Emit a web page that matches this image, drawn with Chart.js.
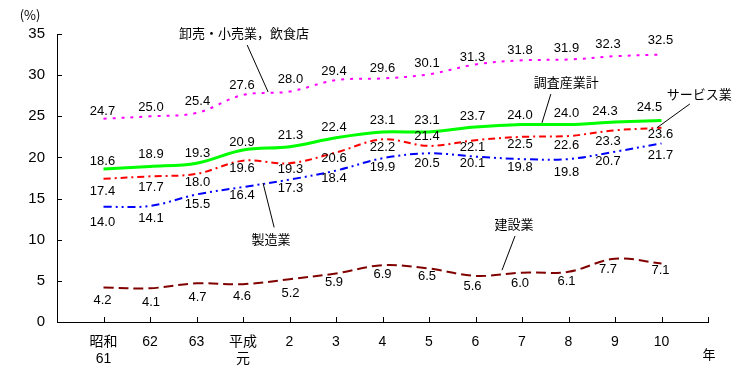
<!DOCTYPE html>
<html>
<head>
<meta charset="utf-8">
<script src="https://cdn.jsdelivr.net/npm/chart.js@4/dist/chart.umd.min.js"></script>
<style>
  html, body { margin: 0; padding: 0; background: #fff; }
  #wrap { width: 742px; height: 376px; position: relative; }
</style>
</head>
<body>
<div id="wrap"><canvas id="c" width="742" height="376"></canvas></div>
<script>
// ---- data ----
const years = ['昭和61', '62', '63', '平成元', '2', '3', '4', '5', '6', '7', '8', '9', '10'];
const tickLabels = [['昭和', '61'], '62', '63', ['平成', '元'], '2', '3', '4', '5', '6', '7', '8', '9', '10'];
const yTicks = [0, 5, 10, 15, 20, 25, 30, 35];
const wholesaleRetail = [24.7, 25.0, 25.4, 27.6, 28.0, 29.4, 29.6, 30.1, 31.3, 31.8, 31.9, 32.3, 32.5];
const allIndustries   = [18.6, 18.9, 19.3, 20.9, 21.3, 22.4, 23.1, 23.1, 23.7, 24.0, 24.0, 24.3, 24.5];
const services        = [17.4, 17.7, 18.0, 19.6, 19.3, 20.6, 22.2, 21.4, 22.1, 22.5, 22.6, 23.3, 23.6];
const manufacturing   = [14.0, 14.1, 15.5, 16.4, 17.3, 18.4, 19.9, 20.5, 20.1, 19.8, 19.8, 20.7, 21.7];
const construction    = [4.2, 4.1, 4.7, 4.6, 5.2, 5.9, 6.9, 6.5, 5.6, 6.0, 6.1, 7.7, 7.1];

// ---- label placement (pixels relative to each point) ----
const sharedDx = [-1, 1, 1, -1, 1, -2, 0, -2, -3, -2, -2, -7, -1];
const labelDy = {
  wholesale:     [-7, -9, -12, -9, -12, -9, -10, -11, -7, -10, -11, -12, -14],
  all:           [-8, -12, -10, -8, -11, -10, -11, -11, -11, -9, -11, -11, -13],
  services:      [13, 11, 9, 8, 6, 6, 8, -9, 7, 8, 9, 11, 7],
  manufacturing: [16, 12, 10, 8, 9, 8, 9, 10, 7, 8, 13, 10, 12],
  construction:  [13, 14, 14, 12, 14, 9, 9, 8, 11, 11, 10, 11, 7]
};
const extraDx = { all: {11: -3, 12: -11} };

// annotations in data units
const annotations = [
  { text: '卸売・小売業，飲食店', x: 4.02, y: 35.1, line: [4.09, 33.66, 4.54, 27.95] },
  { text: '調査産業計', x: 10.95, y: 29.2, line: [10.62, 27.7, 10.43, 24.2] },
  { text: 'サービス業', x: 13.81, y: 27.7, line: [13.61, 26.5, 12.90, 23.6] },
  { text: '製造業', x: 4.60, y: 10.1, line: [4.43, 16.9, 4.67, 11.5] },
  { text: '建設業', x: 9.83, y: 11.9, line: [9.85, 10.45, 9.57, 6.3] },
  { text: '(%)', x: -0.58, y: 37.3 },
  { text: '年', x: 14.02, y: -3.9 }
];

const toXY = arr => arr.map((v, i) => ({ x: i + 1, y: v }));

const NUM_FONT = '13px "Liberation Sans", "Noto Sans CJK JP", sans-serif';
const JP_FONT = '13px "Noto Sans CJK JP", "Liberation Sans", sans-serif';

const overlay = {
  id: 'overlay',
  afterDraw(chart) {
    const ctx = chart.ctx;
    const xs = chart.scales.x, ys = chart.scales.y;
    const ca = chart.chartArea;
    ctx.save();
    // tick marks (inward)
    ctx.strokeStyle = '#000';
    ctx.lineWidth = 1;
    ctx.beginPath();
    for (let v = 1; v <= 14; v++) {
      const px = Math.round(xs.getPixelForValue(v)) + 0.5;
      ctx.moveTo(px, ca.bottom);
      ctx.lineTo(px, ca.bottom - 5);
    }
    yTicks.forEach(v => {
      const py = Math.round(ys.getPixelForValue(v)) + 0.5;
      ctx.moveTo(ca.left, py);
      ctx.lineTo(ca.left + 5, py);
    });
    ctx.stroke();

    // value labels
    ctx.fillStyle = '#000';
    ctx.font = NUM_FONT;
    ctx.textAlign = 'center';
    ctx.textBaseline = 'middle';
    chart.data.datasets.forEach((ds, di) => {
      const meta = chart.getDatasetMeta(di);
      const dys = labelDy[ds.key];
      const ex = extraDx[ds.key] || {};
      meta.data.forEach((el, i) => {
        const dx = sharedDx[i] + (ex[i] || 0);
        ctx.fillText(ds.data[i].y.toFixed(1), el.x + dx, el.y + dys[i]);
      });
    });

    // annotations
    ctx.font = JP_FONT;
    annotations.forEach(a => {
      ctx.fillText(a.text, xs.getPixelForValue(a.x), ys.getPixelForValue(a.y));
      if (a.line) {
        ctx.beginPath();
        ctx.moveTo(xs.getPixelForValue(a.line[0]), ys.getPixelForValue(a.line[1]));
        ctx.lineTo(xs.getPixelForValue(a.line[2]), ys.getPixelForValue(a.line[3]));
        ctx.stroke();
      }
    });
    ctx.restore();
  }
};

const common = { pointRadius: 0, fill: false, tension: 0.35, borderCapStyle: 'butt' };

new Chart(document.getElementById('c'), {
  type: 'line',
  data: {
    datasets: [
      Object.assign({ key: 'wholesale', label: '卸売・小売業，飲食店', data: toXY(wholesaleRetail),
        borderColor: '#FF00FF', borderWidth: 2, borderDash: [3, 6] }, common),
      Object.assign({ key: 'all', label: '調査産業計', data: toXY(allIndustries),
        borderColor: '#00FF00', borderWidth: 3 }, common),
      Object.assign({ key: 'services', label: 'サービス業', data: toXY(services),
        borderColor: '#FF0000', borderWidth: 2, borderDash: [7, 4, 2, 4] }, common),
      Object.assign({ key: 'manufacturing', label: '製造業', data: toXY(manufacturing),
        borderColor: '#0000FF', borderWidth: 2, borderDash: [8, 4, 2, 4, 2, 4] }, common),
      Object.assign({ key: 'construction', label: '建設業', data: toXY(construction),
        borderColor: '#800000', borderWidth: 2, borderDash: [10, 5] }, common)
    ]
  },
  options: {
    responsive: false,
    animation: false,
    events: [],
    layout: { padding: { top: 34, right: 34, left: 0, bottom: 0 } },
    plugins: { legend: { display: false }, tooltip: { enabled: false }, title: { display: false } },
    scales: {
      x: {
        type: 'linear', min: 0, max: 14,
        afterFit: s => { s.height = 54; },
        grid: { display: false, drawTicks: false },
        border: { display: true, color: '#000', width: 1 },
        ticks: {
          stepSize: 1, autoSkip: false, maxRotation: 0, padding: 12, color: '#000',
          font: { family: '"Liberation Sans", "Noto Sans CJK JP", sans-serif', size: 14 },
          callback: v => (v >= 1 && v <= 13) ? tickLabels[v - 1] : ''
        }
      },
      y: {
        min: 0, max: 35,
        afterFit: s => { s.width = 57; },
        grid: { display: false, drawTicks: false },
        border: { display: true, color: '#000', width: 1 },
        ticks: {
          stepSize: 5, padding: 12, color: '#000',
          font: { family: '"Liberation Sans", sans-serif', size: 15 }
        }
      }
    }
  },
  plugins: [overlay]
});
</script>
</body>
</html>
